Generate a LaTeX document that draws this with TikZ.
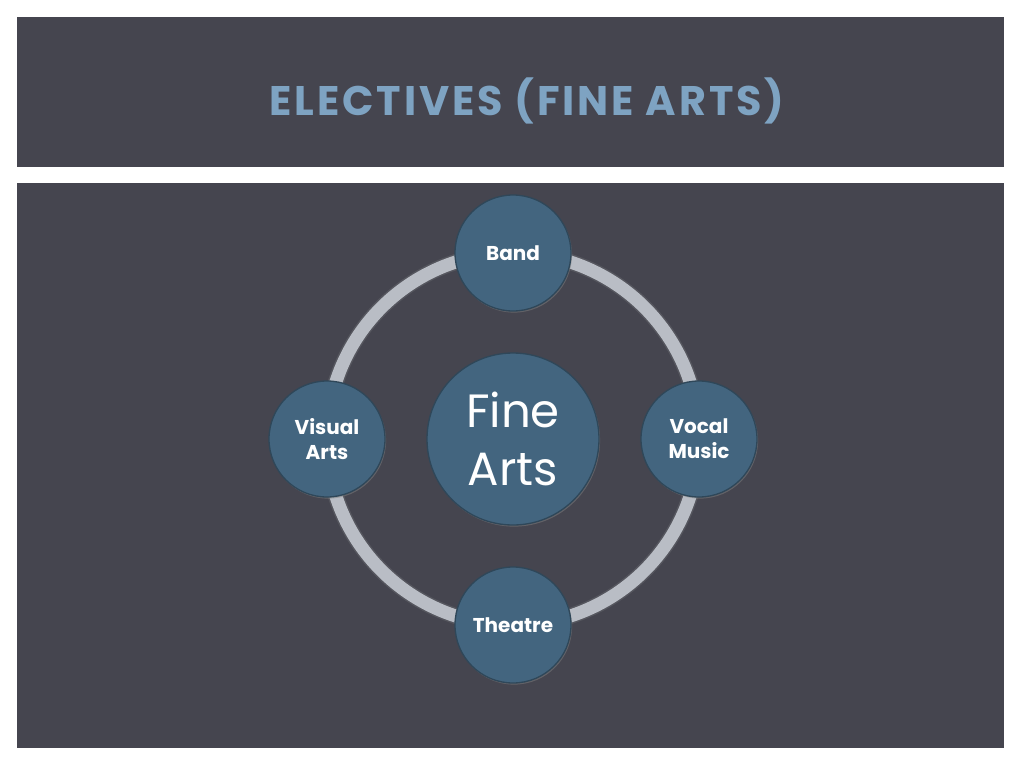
\documentclass[tikz,border=0pt]{standalone}
\usepackage{fontspec}
\setmainfont{Poppins}
\usetikzlibrary{shadows}
\definecolor{panel}{HTML}{45454F}
\definecolor{disc}{HTML}{43657F}
\definecolor{ringc}{HTML}{B9BDC5}
\definecolor{titlec}{HTML}{7EA3C2}
\begin{document}
\begin{tikzpicture}[x=0.75pt,y=-0.75pt,
  bubble/.style={circle,fill=disc,draw=disc!70!black,line width=1pt,text=white,align=center,
    minimum size=116*0.75pt,inner sep=0pt,font=\fontsize{15}{19}\selectfont\bfseries,
    drop shadow={shadow xshift=0.8pt,shadow yshift=-1.2pt,opacity=0.5}},
  hub/.style={bubble,minimum size=172*0.75pt,font=\fontsize{35}{43}\selectfont\mdseries}]
\useasboundingbox (0,0) rectangle (1024,768);
\fill[white] (0,0) rectangle (1024,768);
\fill[panel] (17,17) rectangle (1004,167);
\fill[panel] (17,183) rectangle (1004,748);
\node (title) at (527,101) {\fontsize{31}{36}\selectfont\bfseries\addfontfeature{LetterSpace=7}\color{titlec}ELECTIVES (FINE ARTS)};
\coordinate (c) at (513,439);
\draw[ringc!60!black,line width=16*0.75pt,opacity=0.4] (c) circle[radius=186*0.75pt];
\draw[ringc,line width=13*0.75pt] (c) circle[radius=186*0.75pt];
\node[hub] (fine) at (c) {Fine\\Arts};
\node[bubble] (band) at (513,253) {Band};
\node[bubble] (vocal) at (699,439) {Vocal\\Music};
\node[bubble] (theatre) at (513,625) {Theatre};
\node[bubble] (visual) at (327,439) {Visual\\Arts};
\end{tikzpicture}
\end{document}
